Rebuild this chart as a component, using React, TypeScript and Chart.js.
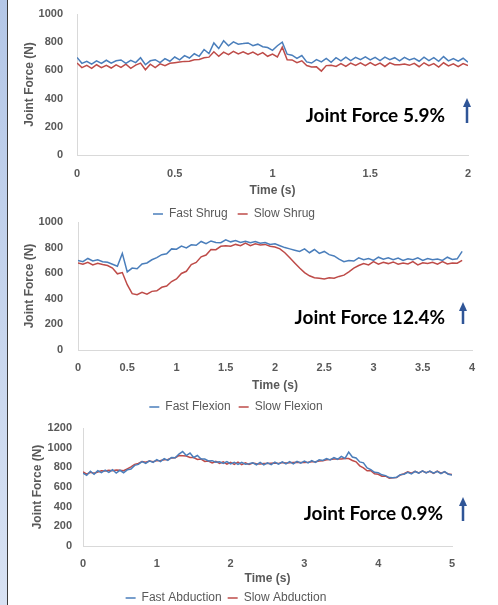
import React, { useEffect, useRef } from "react";
import { Chart, registerables } from "chart.js";

Chart.register(...registerables);
Chart.defaults.font.family = "'Liberation Sans', Arial, sans-serif";

// ---------- data ----------
const shrugStep = 0.025; // seconds between samples
const fastShrug = [
  692, 650, 665, 645, 668, 650, 672, 652, 668, 674,
  650, 672, 655, 690, 640, 668, 676, 655, 684, 665,
  695, 675, 705, 688, 718, 700, 748, 720, 795, 755,
  810, 775, 802, 786, 790, 795, 775, 786, 768, 762,
  742, 775, 800, 715, 708, 685, 705, 660, 652, 676,
  660, 685, 658, 690, 668, 694, 670, 692, 676, 696,
  674, 692, 670, 694, 676, 690, 668, 692, 674, 686,
  665, 694, 670, 690, 664, 698, 668, 684, 666, 686,
  658,
];
const slowShrug = [
  652, 620, 636, 615, 640, 620, 636, 617, 640, 622,
  644, 615, 638, 652, 605, 644, 620, 646, 634, 650,
  655, 660, 664, 665, 676, 678, 690, 694, 732, 700,
  730, 712, 735, 717, 732, 715, 730, 710, 726, 700,
  716, 695, 765, 676, 674, 655, 668, 635, 624, 625,
  595, 634, 636, 628, 648, 628, 652, 636, 654, 634,
  656, 636, 652, 628, 654, 640, 640, 646, 636, 650,
  626, 654, 634, 648, 624, 654, 632, 646, 626, 648,
  634,
];

const flexionStep = 0.05;
const fastFlexion = [
  700, 690, 715, 695, 705, 690, 685, 670, 655, 755,
  610, 640, 635, 672, 680, 705, 722, 745, 752, 790,
  788, 812, 798, 822, 818, 848, 830, 852, 840, 838,
  860, 845, 855, 840, 850, 838, 848, 835, 840, 825,
  830, 815, 800, 790, 780, 770, 790, 760, 785, 755,
  770, 745, 735, 710, 690, 700, 695, 720, 705, 715,
  700, 725, 710, 720, 705, 718, 700, 712, 705, 720,
  700, 715, 705, 710, 700, 725, 708, 712, 770,
];
const slowFlexion = [
  680, 670, 685, 665, 678, 668, 660, 640, 595, 605,
  510, 440, 432, 450, 436, 458, 462, 490, 500, 535,
  555, 598, 615, 668, 684, 728, 742, 785, 784, 810,
  815, 810, 825, 815, 835, 815, 830, 820, 825, 810,
  805, 790, 760, 720, 680, 640, 605, 580, 565, 560,
  555, 565, 560, 575, 585, 610, 640, 660, 675, 665,
  690, 670, 685, 675, 688, 670, 680, 672, 690, 665,
  682, 675, 685, 670, 690, 672, 680, 678, 700,
];

const abductionStep = 0.05;
const fastAbduction = [
  740, 718, 760, 730, 765, 745, 772, 748, 775, 742,
  770, 745, 775, 782, 820, 830, 858, 840, 866, 850,
  878, 858, 888, 870, 900, 898, 935, 960, 920, 945,
  900, 920, 885, 884, 865, 868, 852, 856, 840, 858,
  835, 852, 830, 850, 832, 836, 846, 826, 850, 824,
  845, 828, 852, 832, 855, 834, 858, 836, 860, 842,
  864, 845, 868, 850, 876, 870, 890, 876, 900, 882,
  912, 890, 955, 905, 895, 855, 846, 795, 776, 750,
  746, 724, 716, 696, 694, 700, 726, 730, 750, 734,
  758, 740, 764, 744, 762, 740, 760, 736, 756, 730,
  722,
];
const slowAbduction = [
  755, 730, 750, 740, 752, 765, 762, 770, 765, 772,
  770, 765, 785, 805, 830, 840, 860, 852, 864, 858,
  868, 870, 876, 880, 896, 898, 920, 918, 915, 900,
  900, 880, 884, 860, 864, 845, 860, 840, 855, 832,
  850, 830, 852, 828, 846, 830, 844, 836, 834, 840,
  840, 842, 844, 840, 848, 845, 846, 850, 852, 848,
  850, 852, 856, 858, 864, 866, 878, 880, 884, 885,
  886, 890, 890, 870, 856, 815, 795, 765, 766, 735,
  730, 710, 710, 690, 694, 696, 722, 735, 755, 740,
  760, 744, 762, 745, 760, 738, 762, 740, 755, 732,
  728,
];

const seriesLabels = {
  shrug: ["Fast Shrug", "Slow Shrug"],
  flexion: ["Fast Flexion", "Slow Flexion"],
  abduction: ["Fast Abduction", "Slow Abduction"],
};
const notes = ["Joint Force 5.9%", "Joint Force 12.4%", "Joint Force 0.9%"];
const xAxisMax = [2, 4, 5];
const xAxisStep = [0.5, 0.5, 1];
const yAxisMax = [1000, 1000, 1200];
const yAxisStep = 200;

// ---------- styling ----------
const BLUE = "#4A7EBB";
const RED = "#BE4B48";
const GREY = "#595959";
const AXIS = "#D9D9D9";
const ARROW = "#2F5597";

const notePlugin = {
  id: "jfNote",
  afterDraw(chart: any, _args: any, opts: any) {
    const { ctx } = chart;
    ctx.save();
    ctx.font = "bold 19px Lato, 'Open Sans', sans-serif";
    ctx.fillStyle = "#000";
    ctx.textAlign = "right";
    ctx.textBaseline = "alphabetic";
    ctx.fillText(opts.text, opts.textX, opts.textY);
    const x = opts.arrowX;
    const top = opts.arrowTop;
    const bottom = opts.arrowBottom;
    ctx.fillStyle = ARROW;
    ctx.fillRect(x - 1.25, top + 8, 2.5, bottom - top - 8);
    ctx.beginPath();
    ctx.moveTo(x, top);
    ctx.lineTo(x + 4, top + 9);
    ctx.lineTo(x - 4, top + 9);
    ctx.closePath();
    ctx.fill();
    ctx.restore();
  },
};

type Cfg = {
  top: number;
  height: number;
  padTop: number;
  step: number;
  fast: number[];
  slow: number[];
  labels: string[];
  xMax: number;
  xStep: number;
  yMax: number;
  padRight: number;
  yW: number;
  yTickPad: number;
  yTitlePad: number;
  xH: number;
  xTickPad: number;
  legendPad: number;
  note: any;
};

function toPoints(vals: number[], step: number) {
  return vals.map((y, i) => ({ x: Math.round(i * step * 1000) / 1000, y }));
}

function buildConfig(c: Cfg): any {
  return {
    type: "line",
    data: {
      datasets: [
        {
          label: c.labels[0],
          data: toPoints(c.fast, c.step),
          borderColor: BLUE,
          backgroundColor: BLUE,
          borderWidth: 1.5,
          pointRadius: 0,
          tension: 0,
        },
        {
          label: c.labels[1],
          data: toPoints(c.slow, c.step),
          borderColor: RED,
          backgroundColor: RED,
          borderWidth: 1.5,
          pointRadius: 0,
          tension: 0,
        },
      ],
    },
    options: {
      responsive: false,
      animation: false,
      layout: { padding: { top: c.padTop, right: c.padRight, bottom: 0, left: 0 } },
      plugins: {
        legend: {
          position: "bottom",
          labels: {
            usePointStyle: true,
            pointStyle: "line",
            pointStyleWidth: 10,
            padding: c.legendPad,
            color: GREY,
            font: { size: 12 },
          },
        },
        tooltip: { enabled: false },
        jfNote: c.note,
      },
      scales: {
        x: {
          type: "linear",
          min: 0,
          max: c.xMax,
          afterFit: (s: any) => {
            s.height = c.xH;
          },
          border: { color: AXIS, width: 1 },
          grid: { display: false, drawTicks: false },
          ticks: {
            stepSize: c.xStep,
            padding: c.xTickPad,
            color: GREY,
            maxRotation: 0,
            autoSkip: false,
            font: { size: 11, weight: "bold" },
            callback: (v: any) => String(v),
          },
          title: {
            display: true,
            text: "Time (s)",
            color: GREY,
            font: { size: 12, weight: "bold" },
            padding: { top: 0, bottom: 0 },
          },
        },
        y: {
          min: 0,
          max: c.yMax,
          afterFit: (s: any) => {
            s.width = c.yW;
            s.paddingTop = 6;
            s.paddingBottom = 6;
          },
          border: { color: AXIS, width: 1 },
          grid: { display: false, drawTicks: false },
          ticks: {
            stepSize: yAxisStep,
            padding: c.yTickPad,
            color: GREY,
            font: { size: 11, weight: "bold" },
            callback: (v: any) => String(v),
          },
          title: {
            display: true,
            text: "Joint Force (N)",
            color: GREY,
            font: { size: 12, weight: "bold" },
            padding: { top: c.yTitlePad, bottom: 0 },
          },
        },
      },
    },
    plugins: [notePlugin],
  };
}

function LineChart({ cfg }: { cfg: Cfg }) {
  const ref = useRef<HTMLCanvasElement>(null);
  useEffect(() => {
    const chart = new Chart(ref.current as HTMLCanvasElement, buildConfig(cfg));
    return () => chart.destroy();
  }, []);
  return (
    <canvas
      ref={ref}
      width={498}
      height={cfg.height}
      style={{ position: "absolute", left: 0, top: cfg.top, width: 498, height: cfg.height }}
    />
  );
}

const charts: Cfg[] = [
  {
    top: 0,
    height: 230,
    padTop: 14,
    step: shrugStep,
    fast: fastShrug,
    slow: slowShrug,
    labels: seriesLabels.shrug,
    xMax: xAxisMax[0],
    xStep: xAxisStep[0],
    yMax: yAxisMax[0],
    padRight: 30,
    yW: 77,
    yTickPad: 14,
    yTitlePad: 22,
    xH: 43,
    xTickPad: 12,
    legendPad: 10,
    note: { text: notes[0], textX: 445, textY: 122, arrowX: 467, arrowTop: 98, arrowBottom: 123 },
  },
  {
    top: 208,
    height: 215,
    padTop: 14,
    step: flexionStep,
    fast: fastFlexion,
    slow: slowFlexion,
    labels: seriesLabels.flexion,
    xMax: xAxisMax[1],
    xStep: xAxisStep[1],
    yMax: yAxisMax[1],
    padRight: 26,
    yW: 78,
    yTickPad: 15,
    yTitlePad: 22,
    xH: 43,
    xTickPad: 11,
    legendPad: 8,
    note: { text: notes[1], textX: 445, textY: 116, arrowX: 463, arrowTop: 94, arrowBottom: 116 },
  },
  {
    top: 414,
    height: 200,
    padTop: 14,
    step: abductionStep,
    fast: fastAbduction,
    slow: slowAbduction,
    labels: seriesLabels.abduction,
    xMax: xAxisMax[2],
    xStep: xAxisStep[2],
    yMax: yAxisMax[2],
    padRight: 46,
    yW: 83,
    yTickPad: 11,
    yTitlePad: 30,
    xH: 40,
    xTickPad: 11,
    legendPad: 6,
    note: { text: notes[2], textX: 443, textY: 106, arrowX: 463, arrowTop: 83, arrowBottom: 107 },
  },
];

export default function App() {
  return (
    <div
      style={{
        position: "fixed",
        left: 0,
        top: 0,
        width: 498,
        height: 605,
        overflow: "hidden",
        background: "#fff",
      }}
    >
      <div
        style={{
          position: "absolute",
          left: 0,
          top: 0,
          width: 7,
          height: 605,
          background: "linear-gradient(#b4c7e7, #d8e2f3)",
          borderRight: "1px solid #3a3a3a",
        }}
      />
      {charts.map((c, i) => (
        <LineChart key={i} cfg={c} />
      ))}
    </div>
  );
}
